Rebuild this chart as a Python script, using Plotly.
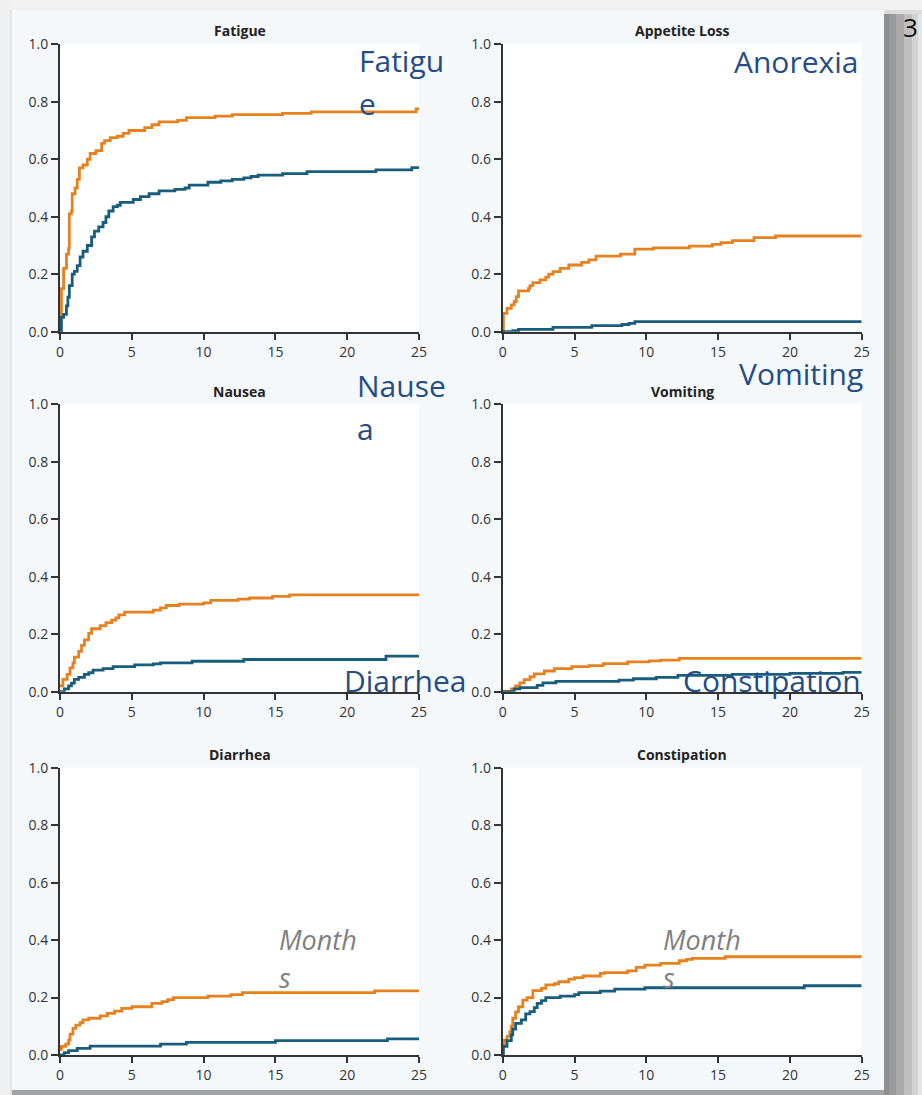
import plotly.graph_objects as go

W, H = 922, 1095

# ---------------- data ----------------
panel_titles = ["Fatigue", "Appetite Loss", "Nausea", "Vomiting", "Diarrhea", "Constipation"]
x_ticks = [0, 5, 10, 15, 20, 25]
y_ticks = [0.0, 0.2, 0.4, 0.6, 0.8, 1.0]
y_tick_labels = ["0.0", "0.2", "0.4", "0.6", "0.8", "1.0"]

fatigue_orange_x = [0, 0.02, 0.1, 0.25, 0.45, 0.6, 0.65, 0.8, 0.85, 1.05, 1.2, 1.35, 1.6, 1.9, 2.1, 2.5, 2.9, 3.1, 3.5, 4.0, 4.4, 4.8, 5.9, 6.4, 6.9, 8.2, 8.8, 10.8, 12.0, 15.5, 17.5, 24.8, 25]
fatigue_orange_y = [0, 0.05, 0.15, 0.22, 0.27, 0.29, 0.41, 0.42, 0.48, 0.50, 0.53, 0.57, 0.58, 0.60, 0.62, 0.63, 0.655, 0.665, 0.675, 0.68, 0.69, 0.70, 0.71, 0.72, 0.73, 0.735, 0.745, 0.75, 0.755, 0.76, 0.765, 0.775, 0.775]
fatigue_teal_x = [0, 0.1, 0.25, 0.45, 0.55, 0.65, 0.85, 1.0, 1.2, 1.4, 1.6, 1.9, 2.2, 2.4, 2.7, 3.0, 3.2, 3.4, 3.7, 4.0, 4.2, 5.1, 5.6, 6.2, 6.9, 8.0, 8.7, 9.0, 10.3, 11.2, 12.0, 12.8, 13.3, 13.8, 15.5, 17.2, 22.0, 24.5, 25]
fatigue_teal_y = [0, 0.05, 0.06, 0.09, 0.12, 0.16, 0.20, 0.21, 0.23, 0.26, 0.28, 0.30, 0.33, 0.35, 0.365, 0.38, 0.40, 0.42, 0.435, 0.44, 0.45, 0.46, 0.47, 0.48, 0.49, 0.495, 0.50, 0.51, 0.52, 0.525, 0.53, 0.535, 0.54, 0.545, 0.55, 0.557, 0.563, 0.571, 0.571]

appetite_orange_x = [0, 0.05, 0.3, 0.6, 0.8, 0.95, 1.1, 1.8, 1.9, 2.1, 2.6, 3.0, 3.2, 3.5, 4.0, 4.6, 5.5, 6.0, 6.5, 8.2, 9.2, 10.5, 13.0, 14.6, 15.2, 16.0, 17.5, 19.0, 25]
appetite_orange_y = [0, 0.064, 0.081, 0.093, 0.105, 0.122, 0.142, 0.151, 0.16, 0.171, 0.18, 0.19, 0.2, 0.209, 0.22, 0.232, 0.241, 0.25, 0.263, 0.27, 0.287, 0.292, 0.298, 0.304, 0.31, 0.317, 0.327, 0.333, 0.333]
appetite_teal_x = [0, 0.7, 1.1, 3.5, 6.2, 8.3, 8.8, 9.2, 25]
appetite_teal_y = [0, 0.004, 0.008, 0.015, 0.021, 0.025, 0.029, 0.035, 0.035]

nausea_orange_x = [0, 0.2, 0.5, 0.7, 0.9, 1.0, 1.3, 1.5, 1.7, 2.0, 2.2, 2.8, 3.2, 3.6, 3.9, 4.1, 4.5, 6.5, 7.0, 7.4, 8.3, 10.0, 10.5, 12.4, 13.2, 14.8, 16.0, 25]
nausea_orange_y = [0.02, 0.043, 0.06, 0.083, 0.1, 0.12, 0.14, 0.161, 0.18, 0.203, 0.219, 0.23, 0.24, 0.249, 0.257, 0.267, 0.277, 0.284, 0.292, 0.3, 0.305, 0.309, 0.318, 0.322, 0.326, 0.332, 0.337, 0.338]
nausea_teal_x = [0, 0.3, 0.6, 0.8, 1.0, 1.3, 1.7, 2.0, 2.3, 3.0, 3.7, 5.2, 6.5, 7.0, 9.2, 12.8, 22.7, 25]
nausea_teal_y = [0, 0.01, 0.02, 0.03, 0.043, 0.05, 0.06, 0.066, 0.075, 0.08, 0.087, 0.093, 0.097, 0.1, 0.106, 0.112, 0.124, 0.124]

vomiting_orange_x = [0, 0.6, 0.9, 1.2, 1.5, 1.9, 2.2, 2.9, 3.6, 4.8, 6.0, 7.0, 8.7, 10.2, 11.0, 12.3, 25]
vomiting_orange_y = [0, 0.01, 0.02, 0.031, 0.042, 0.052, 0.062, 0.072, 0.08, 0.087, 0.091, 0.098, 0.104, 0.107, 0.11, 0.116, 0.116]
vomiting_teal_x = [0, 0.8, 1.2, 2.4, 2.8, 3.7, 8.1, 9.1, 10.7, 12.2, 16.0, 20.0, 23.7, 25]
vomiting_teal_y = [0, 0.01, 0.014, 0.022, 0.031, 0.036, 0.04, 0.045, 0.05, 0.057, 0.06, 0.064, 0.067, 0.067]

diarrhea_orange_x = [0, 0.1, 0.4, 0.6, 0.7, 0.9, 1.1, 1.4, 1.6, 2.0, 2.8, 3.3, 3.8, 4.3, 5.0, 6.4, 7.1, 7.5, 7.9, 10.3, 11.9, 12.7, 21.9, 25]
diarrhea_orange_y = [0.02, 0.03, 0.038, 0.052, 0.073, 0.093, 0.104, 0.113, 0.122, 0.128, 0.136, 0.145, 0.153, 0.162, 0.168, 0.18, 0.186, 0.193, 0.2, 0.205, 0.21, 0.217, 0.223, 0.223]
diarrhea_teal_x = [0, 0.3, 0.6, 1.2, 2.1, 7.0, 8.8, 15.0, 22.8, 25]
diarrhea_teal_y = [0, 0.008, 0.015, 0.023, 0.031, 0.038, 0.044, 0.05, 0.056, 0.056]

constipation_orange_x = [0, 0.1, 0.3, 0.5, 0.6, 0.7, 0.9, 1.1, 1.4, 1.7, 2.1, 2.7, 3.0, 3.6, 3.9, 4.6, 5.0, 5.6, 6.8, 7.1, 8.7, 9.3, 9.9, 11.0, 12.3, 12.8, 13.2, 15.5, 25]
constipation_orange_y = [0.029, 0.052, 0.065, 0.081, 0.1, 0.128, 0.15, 0.168, 0.191, 0.2, 0.224, 0.232, 0.244, 0.248, 0.255, 0.264, 0.269, 0.275, 0.284, 0.287, 0.293, 0.305, 0.313, 0.319, 0.328, 0.333, 0.336, 0.342, 0.342]
constipation_teal_x = [0, 0.05, 0.3, 0.6, 0.7, 0.9, 1.3, 1.6, 1.9, 2.2, 2.4, 2.7, 3.0, 4.0, 5.0, 5.3, 6.8, 7.8, 9.9, 21.0, 25]
constipation_teal_y = [0, 0.03, 0.05, 0.07, 0.09, 0.11, 0.122, 0.143, 0.151, 0.165, 0.18, 0.189, 0.2, 0.205, 0.21, 0.217, 0.222, 0.229, 0.234, 0.241, 0.241]

overlay_labels = [("Fatigu", "e"), ("Anorexia",), ("Nause", "a"), ("Vomiting",), ("Diarrhea",), ("Constipation",)]
months_label = ("Month", "s")
slide_number = "3"

# ---------------- figure ----------------
ORANGE = "#e5821f"
TEAL = "#185d7c"
AXIS = "#333333"
PANEL_BG = "#f5f8fa"

series = [
    (fatigue_orange_x, fatigue_orange_y, fatigue_teal_x, fatigue_teal_y),
    (appetite_orange_x, appetite_orange_y, appetite_teal_x, appetite_teal_y),
    (nausea_orange_x, nausea_orange_y, nausea_teal_x, nausea_teal_y),
    (vomiting_orange_x, vomiting_orange_y, vomiting_teal_x, vomiting_teal_y),
    (diarrhea_orange_x, diarrhea_orange_y, diarrhea_teal_x, diarrhea_teal_y),
    (constipation_orange_x, constipation_orange_y, constipation_teal_x, constipation_teal_y),
]

col_px = [(60, 419), (502.7, 861.7)]
row_px = [(44.3, 331.7), (404.3, 691.7), (767.7, 1055.0)]

def px(x):
    return x / W

def py(y):
    return 1 - y / H

fig = go.Figure()
layout = dict(
    width=W, height=H,
    margin=dict(l=0, r=0, t=0, b=0, pad=0, autoexpand=False),
    paper_bgcolor=PANEL_BG,
    plot_bgcolor="white",
    showlegend=False,
    font=dict(family="Open Sans", color=AXIS),
)

annotations = []
for i, (ox, oy, tx, ty) in enumerate(series):
    r, c = divmod(i, 2)
    k = "" if i == 0 else str(i + 1)
    fig.add_trace(go.Scatter(x=ox, y=oy, mode="lines", line=dict(color=ORANGE, width=2.8, shape="hv"),
                             xaxis="x" + k, yaxis="y" + k, hoverinfo="skip"))
    fig.add_trace(go.Scatter(x=tx, y=ty, mode="lines", line=dict(color=TEAL, width=2.8, shape="hv"),
                             xaxis="x" + k, yaxis="y" + k, hoverinfo="skip"))
    x0, x1 = col_px[c]
    y0, y1 = row_px[r]
    layout["xaxis" + k] = dict(
        domain=[px(x0), px(x1)], anchor="y" + k, range=[0, 25], automargin=False,
        tickvals=x_ticks, ticks="outside", ticklen=6, tickwidth=1.8, tickcolor=AXIS,
        showline=True, linecolor=AXIS, linewidth=2, showgrid=False, zeroline=False,
        tickfont=dict(family="Open Sans", size=14, color=AXIS), fixedrange=True,
    )
    layout["yaxis" + k] = dict(
        domain=[py(y1), py(y0)], anchor="x" + k, range=[0, 1], automargin=False,
        tickvals=y_ticks, ticktext=y_tick_labels, ticks="outside", ticklen=7, tickwidth=1.8,
        tickcolor=AXIS, showline=True, linecolor=AXIS, linewidth=2, showgrid=False, zeroline=False,
        tickfont=dict(family="Open Sans", size=14, color=AXIS), fixedrange=True,
    )
    title_y = [30.6, 392.0, 754.6][r]
    annotations.append(dict(text="<b>%s</b>" % panel_titles[i], x=px((x0 + x1) / 2), y=py(title_y),
                            xref="paper", yref="paper", xanchor="center", yanchor="middle",
                            showarrow=False, font=dict(family="Open Sans", size=14, color="#222222")))

# overlay labels (blue)
blue = "#244d84"
label_pos = [
    [(357.3, 60.1), (357.0, 103.4)],
    [(732.3, 61.1)],
    [(355.0, 385.1), (355.0, 428.4)],
    [(737.3, 373.4)],
    [(341.7, 680.4)],
    [(680.7, 680.4)],
]
for parts, poss in zip(overlay_labels, label_pos):
    for t, (lx, ly) in zip(parts, poss):
        annotations.append(dict(text=t, x=px(lx), y=py(ly), xref="paper", yref="paper",
                                xanchor="left", yanchor="middle", showarrow=False,
                                font=dict(family="Open Sans", size=30, color=blue)))

for mx in (277.0, 661.3):
    for t, ly in zip(months_label, (939.5, 977.5)):
        annotations.append(dict(text="<i>%s</i>" % t, x=px(mx), y=py(ly), xref="paper", yref="paper",
                                xanchor="left", yanchor="middle", showarrow=False,
                                font=dict(family="Open Sans", size=27, color="#808080")))

annotations.append(dict(text=slide_number, x=px(910), y=py(27), xref="paper", yref="paper",
                        xanchor="center", yanchor="middle", showarrow=False,
                        font=dict(family="Open Sans", size=26, color="#111111")))

# frame / shadow around the slide picture
shapes = []
def rect(x0, y0, x1, y1, color):
    shapes.append(dict(type="rect", xref="paper", yref="paper", x0=px(x0), x1=px(x1),
                       y0=py(y1), y1=py(y0), fillcolor=color, line=dict(width=0), layer="below"))

rect(0, 0, W, 10, "#f1f1f1")
rect(0, 0, 10, H, "#f0f0f0")
rect(10, 10, 12, H, "#e4e4e4")
shadow = [(884, 889, "#8f8f8f"), (889, 896, "#9a9a9a"), (896, 904, "#aaaaaa"),
          (904, 912, "#bfbfbf"), (912, 918, "#d3d3d3"), (918, 922, "#e5e5e5")]
for sx0, sx1, col in shadow:
    rect(sx0, 14, sx1, H, col)
rect(884, 10, 922, 14, "#dcdcdc")
rect(12, 1090, 884, H, "#a3a3a3")

layout["annotations"] = annotations
layout["shapes"] = shapes
fig.update_layout(**layout)
fig.write_html("out.html", config={"displayModeBar": False},
               post_script="document.body.style.margin='0';")
